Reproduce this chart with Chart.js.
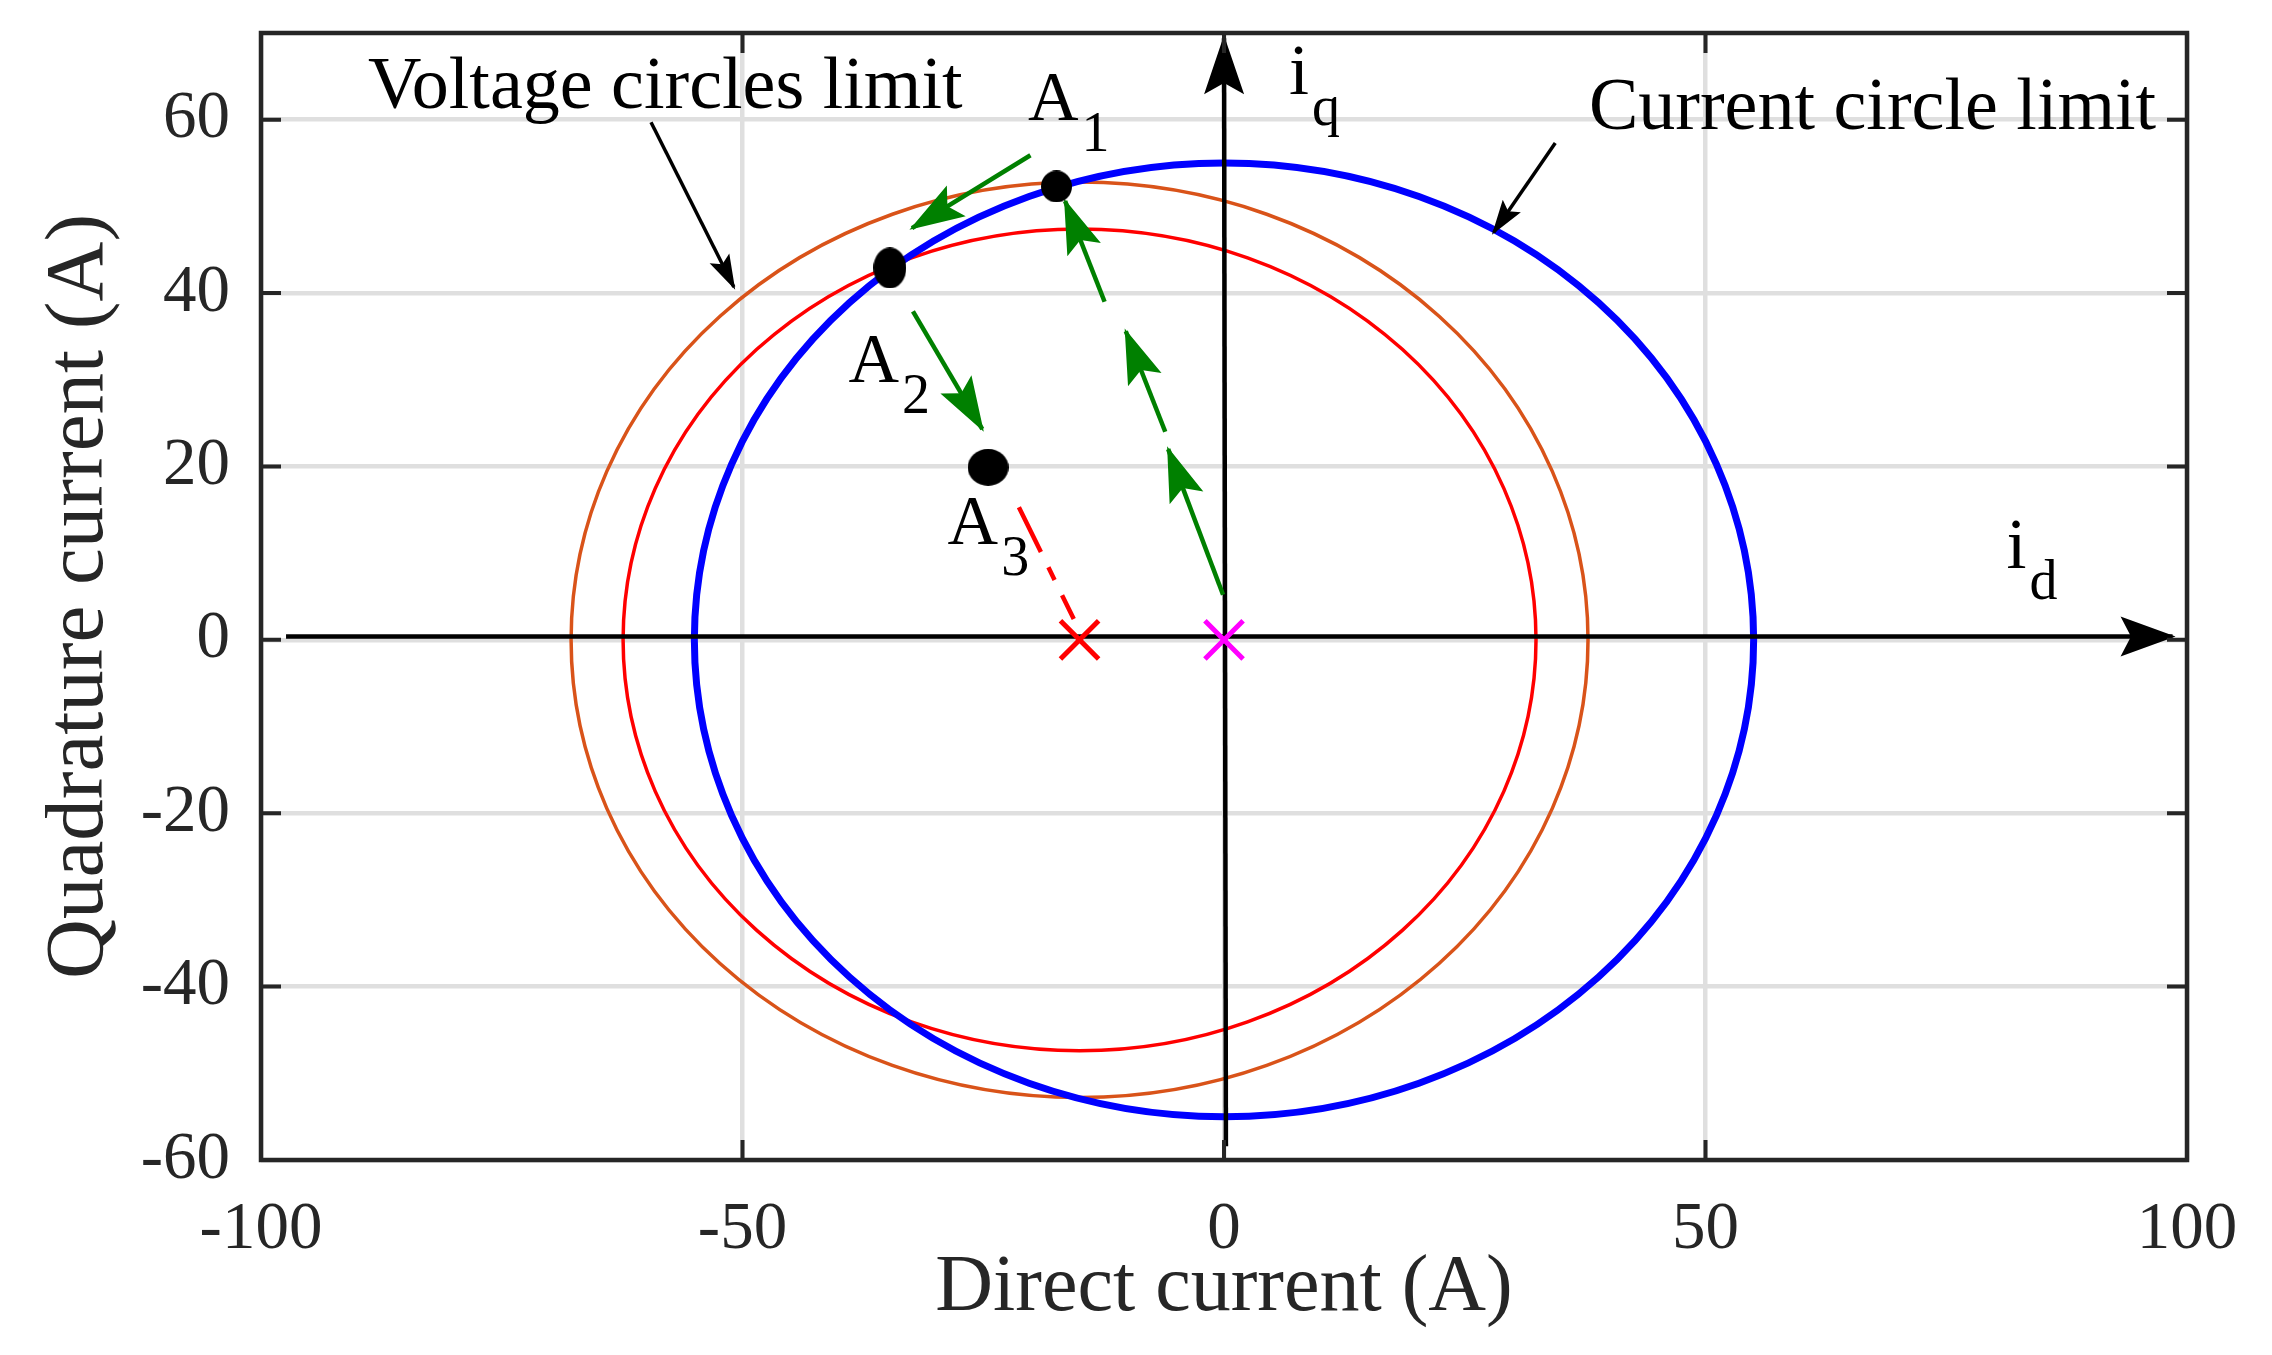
<!DOCTYPE html>
<html>
<head>
<meta charset="utf-8">
<title>Current and voltage limit circles</title>
<script src="https://cdn.jsdelivr.net/npm/chart.js@4.4.1/dist/chart.umd.min.js"></script>
<style>
  html, body { margin: 0; padding: 0; background: #fff; }
  #wrap { width: 2272px; height: 1355px; }
</style>
</head>
<body>
<div id="wrap"><canvas id="chart" width="2272" height="1355"></canvas></div>
<script>
// axes
const xTicks = [-100, -50, 0, 50, 100];
const yTicks = [-60, -40, -20, 0, 20, 40, 60];
const xLimits = [-100, 100];
const yLimits = [-60, 70];

// limit circles: centre (id, iq) and radius, in A
const circleNames = ['Voltage circle (outer)', 'Voltage circle (inner)', 'Current circle limit'];
const circleCentreD = [-15, -15, 0];
const circleCentreQ = [0, 0, 0];
const circleRadius = [52.8, 47.4, 55];

// operating points
const pointNames = ['A1', 'A2', 'A3'];
const pointD = [-17.4, -34.7, -24.5];
const pointQ = [52.3, 42.9, 19.9];

// centres marked with a cross (voltage circles, origin)
const crossD = [-15, 0];
const crossQ = [0, 0];

// green trajectory arrows, [start, end] per arrow
const trajD = [[-20.1, -32.4], [-32.3, -25.1], [-0.1, -5.8], [-6.1, -10.2], [-12.4, -16.5]];
const trajQ = [[55.9, 47.5], [37.9, 24.3], [5.2, 22.0], [24.0, 35.6], [39.0, 50.6]];

// dash-dot line from A3 towards the voltage circle centre
const dashD = [-21.3, -15.6];
const dashQ = [15.3, 2.4];

// id and iq axes drawn inside the plot
const idAxisD = [-97.4, 98.5];
const idAxisQ = [0.4, 0.4];
const iqAxisD = [0.2, 0];
const iqAxisQ = [-58.4, 69.4];

// pointers of the two callouts
const pointerD = [[-59.5, -50.9], [34.4, 28.0]];
const pointerQ = [[59.7, 40.7], [57.3, 47.0]];

const BLUE = '#0000ff', RED = '#ff0000', ORANGE = '#d95319', GREEN = '#008000', MAGENTA = '#ff00ff';
const AXIS = '#262626';
const FONT = "'Liberation Serif', 'Times New Roman', serif";

const circleStyle = [
    { color: ORANGE, width: 3.5 },
    { color: RED, width: 3.5 },
    { color: BLUE, width: 7 }
];

// callout texts, placed in data units
const callouts = [
    { text: 'Voltage circles limit', at: [-88.9, 61.3], size: 74 },
    { text: 'Current circle limit', at: [37.9, 58.9], size: 74 },
    { text: 'A', sub: '1', at: [-20.35, 60.0], size: 70 },
    { text: 'A', sub: '2', at: [-39.0, 29.8], size: 70 },
    { text: 'A', sub: '3', at: [-28.7, 11.1], size: 70 },
    { text: 'i', sub: 'q', at: [6.75, 63.0], size: 72 },
    { text: 'i', sub: 'd', at: [81.26, 8.26], size: 72 }
];

function xy(ds, qs) {
    return ds.map((d, i) => ({ x: d, y: qs[i] }));
}

function dot(w, h) {
    const c = document.createElement('canvas');
    c.width = w;
    c.height = h;
    const g = c.getContext('2d');
    g.fillStyle = '#000';
    g.beginPath();
    g.ellipse(w / 2, h / 2, w / 2, h / 2, 0, 0, Math.PI * 2);
    g.fill();
    return c;
}

function segment(d, q, color, width, head, order) {
    return {
        data: xy(d, q),
        showLine: true,
        borderColor: color,
        backgroundColor: color,
        borderWidth: width,
        borderCapStyle: 'butt',
        pointRadius: 0,
        head: head,
        order: order
    };
}

const datasets = [];

datasets.push({
    label: 'Operating points',
    data: xy(pointD, pointQ),
    pointStyle: [dot(31, 32), dot(33, 41), dot(41, 37)],
    pointRadius: 16,
    showLine: false,
    order: 0
});

datasets.push({
    label: 'Circle centres',
    data: xy(crossD, crossQ),
    pointStyle: 'crossRot',
    pointRadius: 27,
    pointBorderWidth: 5,
    pointBorderColor: [RED, MAGENTA],
    showLine: false,
    order: 1
});

trajD.forEach((d, i) => {
    datasets.push(segment(d, trajQ[i], GREEN, 4.5, { length: 52, width: 36 }, 2));
});

const dashLine = segment(dashD, dashQ, RED, 4.5, null, 3);
dashLine.borderDash = [50, 17, 14, 17];
datasets.push(dashLine);

pointerD.forEach((d, i) => {
    datasets.push(segment(d, pointerQ[i], '#000', 3.5, { length: 32, width: 22 }, 4));
});

datasets.push(segment(idAxisD, idAxisQ, '#000', 4.5, { length: 52, width: 40 }, 5));
datasets.push(segment(iqAxisD, iqAxisQ, '#000', 4.5, { length: 56, width: 40 }, 5));

const limitCircles = {
    id: 'limitCircles',
    beforeDatasetsDraw(chart) {
        const { ctx, chartArea: a, scales: { x, y } } = chart;
        ctx.save();
        ctx.beginPath();
        ctx.rect(a.left, a.top, a.width, a.height);
        ctx.clip();
        circleRadius.forEach((r, i) => {
            const cx = x.getPixelForValue(circleCentreD[i]);
            const cy = y.getPixelForValue(circleCentreQ[i]);
            const rx = x.getPixelForValue(circleCentreD[i] + r) - cx;
            const ry = cy - y.getPixelForValue(circleCentreQ[i] + r);
            ctx.beginPath();
            ctx.ellipse(cx, cy, rx, ry, 0, 0, Math.PI * 2);
            ctx.strokeStyle = circleStyle[i].color;
            ctx.lineWidth = circleStyle[i].width;
            ctx.stroke();
        });
        ctx.restore();
    }
};

// filled arrow heads at the end of segments that ask for one
const arrowHeads = {
    id: 'arrowHeads',
    afterDatasetDraw(chart, args) {
        const ds = chart.data.datasets[args.index];
        if (!ds.head) return;
        const pts = args.meta.data;
        const a = pts[pts.length - 2];
        const b = pts[pts.length - 1];
        const ang = Math.atan2(b.y - a.y, b.x - a.x);
        const L = ds.head.length;
        const W = ds.head.width;
        const ctx = chart.ctx;
        ctx.save();
        ctx.translate(b.x, b.y);
        ctx.rotate(ang);
        ctx.fillStyle = ds.borderColor;
        ctx.beginPath();
        ctx.moveTo(3, 0);
        ctx.lineTo(-L, -W / 2);
        ctx.lineTo(-L * 0.8, 0);
        ctx.lineTo(-L, W / 2);
        ctx.closePath();
        ctx.fill();
        ctx.restore();
    }
};

// box round the plot with inward ticks on all four sides
const frameBox = {
    id: 'frameBox',
    afterDraw(chart) {
        const { ctx, chartArea: a, scales: { x, y } } = chart;
        const t = 20;
        ctx.save();
        ctx.strokeStyle = AXIS;
        ctx.lineWidth = 4;
        ctx.beginPath();
        xTicks.forEach(v => {
            const px = x.getPixelForValue(v);
            ctx.moveTo(px, a.bottom);
            ctx.lineTo(px, a.bottom - t);
            ctx.moveTo(px, a.top);
            ctx.lineTo(px, a.top + t);
        });
        yTicks.forEach(v => {
            const py = y.getPixelForValue(v);
            ctx.moveTo(a.left, py);
            ctx.lineTo(a.left + t, py);
            ctx.moveTo(a.right, py);
            ctx.lineTo(a.right - t, py);
        });
        ctx.stroke();
        ctx.lineWidth = 4.5;
        ctx.strokeRect(a.left, a.top, a.width, a.height);
        ctx.restore();
    }
};

// callout texts with tex-like subscripts
const calloutText = {
    id: 'calloutText',
    afterDraw(chart) {
        const { ctx, scales: { x, y } } = chart;
        ctx.save();
        ctx.fillStyle = '#000';
        ctx.textBaseline = 'alphabetic';
        ctx.textAlign = 'left';
        callouts.forEach(c => {
            const px = x.getPixelForValue(c.at[0]);
            const py = y.getPixelForValue(c.at[1]);
            ctx.font = c.size + 'px ' + FONT;
            ctx.fillText(c.text, px, py);
            if (c.sub) {
                const w = ctx.measureText(c.text).width;
                ctx.font = '56px ' + FONT;
                ctx.fillText(c.sub, px + w + 3, py + 31);
            }
        });
        ctx.restore();
    }
};

new Chart(document.getElementById('chart'), {
    type: 'scatter',
    data: { datasets: datasets },
    options: {
        responsive: false,
        animation: false,
        devicePixelRatio: 1,
        events: [],
        layout: { padding: { left: 0, top: 33, right: 85, bottom: 0 } },
        plugins: {
            legend: { display: false },
            tooltip: { enabled: false }
        },
        scales: {
            x: {
                type: 'linear',
                min: xLimits[0],
                max: xLimits[1],
                afterBuildTicks: s => { s.ticks = xTicks.map(v => ({ value: v })); },
                afterFit: s => { s.height = 195; s.paddingLeft = 0; s.paddingRight = 0; },
                grid: { color: '#dfdfdf', lineWidth: 4.5, drawTicks: false },
                border: { display: false },
                ticks: { color: AXIS, font: { family: FONT, size: 67 }, padding: 30, maxRotation: 0 },
                title: {
                    display: true,
                    text: 'Direct current (A)',
                    color: AXIS,
                    font: { family: FONT, size: 80 },
                    padding: { top: 0, bottom: 18 }
                }
            },
            y: {
                type: 'linear',
                min: yLimits[0],
                max: yLimits[1],
                afterBuildTicks: s => { s.ticks = yTicks.map(v => ({ value: v })); },
                afterFit: s => { s.width = 261; s.paddingTop = 0; s.paddingBottom = 0; },
                grid: { color: '#dfdfdf', lineWidth: 4.5, drawTicks: false },
                border: { display: false },
                ticks: { color: AXIS, font: { family: FONT, size: 67 }, padding: 31 },
                title: {
                    display: true,
                    text: 'Quadrature current (A)',
                    color: AXIS,
                    font: { family: FONT, size: 83 },
                    padding: { top: 30, bottom: 0 }
                }
            }
        }
    },
    plugins: [limitCircles, arrowHeads, frameBox, calloutText]
});
</script>
</body>
</html>
